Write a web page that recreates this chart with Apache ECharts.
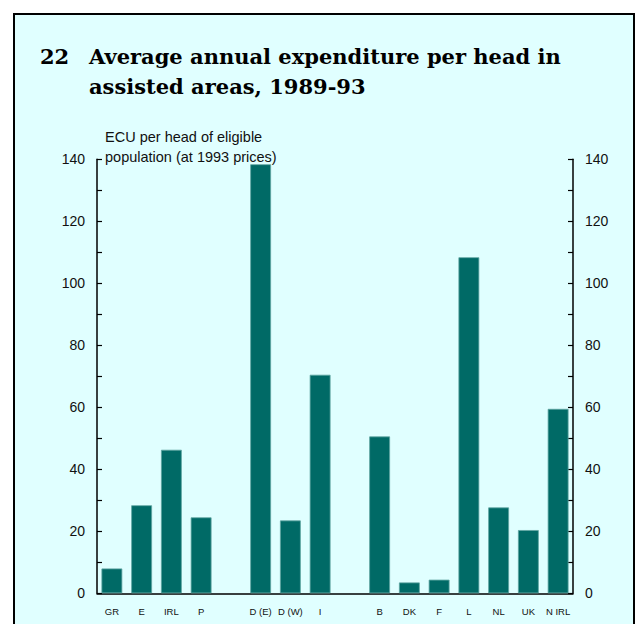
<!DOCTYPE html>
<html>
<head>
<meta charset="utf-8">
<script src="https://cdn.jsdelivr.net/npm/echarts@6/dist/echarts.min.js"></script>
<style>
  html, body { margin: 0; padding: 0; background: #ffffff; }
  #frame { position: absolute; left: 13px; top: 13px; width: 618px; height: 620px;
           border: 2px solid #000; border-bottom: none; background: #e0ffff; }
  #chart { position: absolute; left: 0; top: 0; width: 635px; height: 624px; }
</style>
</head>
<body>
<div id="frame"></div>
<div id="chart"></div>
<script>
// Data
var categories = ['GR', 'E', 'IRL', 'P', '', 'D (E)', 'D (W)', 'I', '', 'B', 'DK', 'F', 'L', 'NL', 'UK', 'N IRL'];
var values = [8.0, 28.4, 46.3, 24.5, null, 138.4, 23.5, 70.5, null, 50.6, 3.5, 4.4, 108.4, 27.7, 20.4, 59.5];
var yTicks = [0, 20, 40, 60, 80, 100, 120, 140];
var chartNumber = '22';
var chartTitle = 'Average annual expenditure per head in\nassisted areas, 1989-93';
var axisTitle = 'ECU per head of eligible\npopulation (at 1993 prices)';

var chart = echarts.init(document.getElementById('chart'), null, { renderer: 'svg' });

function yAxisDef(pos) {
  return {
    type: 'value',
    position: pos,
    min: yTicks[0],
    max: yTicks[yTicks.length - 1],
    interval: yTicks[1] - yTicks[0],
    axisLine: { show: true, lineStyle: { color: '#000', width: 1.5 } },
    axisTick: { show: true, inside: true, length: 5, lineStyle: { color: '#000', width: 1.2 } },
    minorTick: { show: true, splitNumber: 2, length: 5, lineStyle: { color: '#000', width: 1.2 } },
    splitLine: { show: false },
    axisLabel: { margin: 12, color: '#111', fontSize: 14, fontFamily: 'Liberation Sans, Arial, sans-serif' }
  };
}

var leftAxis = yAxisDef('left');
leftAxis.name = axisTitle;
leftAxis.nameLocation = 'end';
leftAxis.nameGap = -8;
leftAxis.nameTextStyle = {
  align: 'left', verticalAlign: 'bottom', color: '#111', fontSize: 14.5, lineHeight: 20,
  fontFamily: 'Liberation Sans, Arial, sans-serif', padding: [0, 0, 0, 8]
};

var option = {
  backgroundColor: 'transparent',
  animation: false,
  title: [
    { text: chartNumber, left: 35, top: 36,
      textStyle: { fontFamily: 'DejaVu Serif', fontWeight: 'bold', fontSize: 21, lineHeight: 30, color: '#000' } },
    { text: chartTitle, left: 84, top: 36,
      textStyle: { fontFamily: 'DejaVu Serif', fontWeight: 'bold', fontSize: 21, lineHeight: 30, color: '#000' } }
  ],
  grid: { left: 97, right: 62, top: 159.3, bottom: 30.7, containLabel: false, outerBoundsMode: 'none' },
  xAxis: {
    type: 'category',
    data: categories,
    axisLine: { show: true, onZero: false, lineStyle: { color: '#000', width: 1.5 } },
    axisTick: { show: false },
    axisLabel: { interval: 0, margin: 13, color: '#111', fontSize: 9.5, fontFamily: 'Liberation Sans, Arial, sans-serif' }
  },
  yAxis: [leftAxis, yAxisDef('right')],
  series: [{
    type: 'bar',
    data: values,
    barWidth: '70%',
    itemStyle: { color: '#006a66', borderColor: '#5fa5a1', borderWidth: 0.8 }
  }]
};
chart.setOption(option);
</script>
</body>
</html>
